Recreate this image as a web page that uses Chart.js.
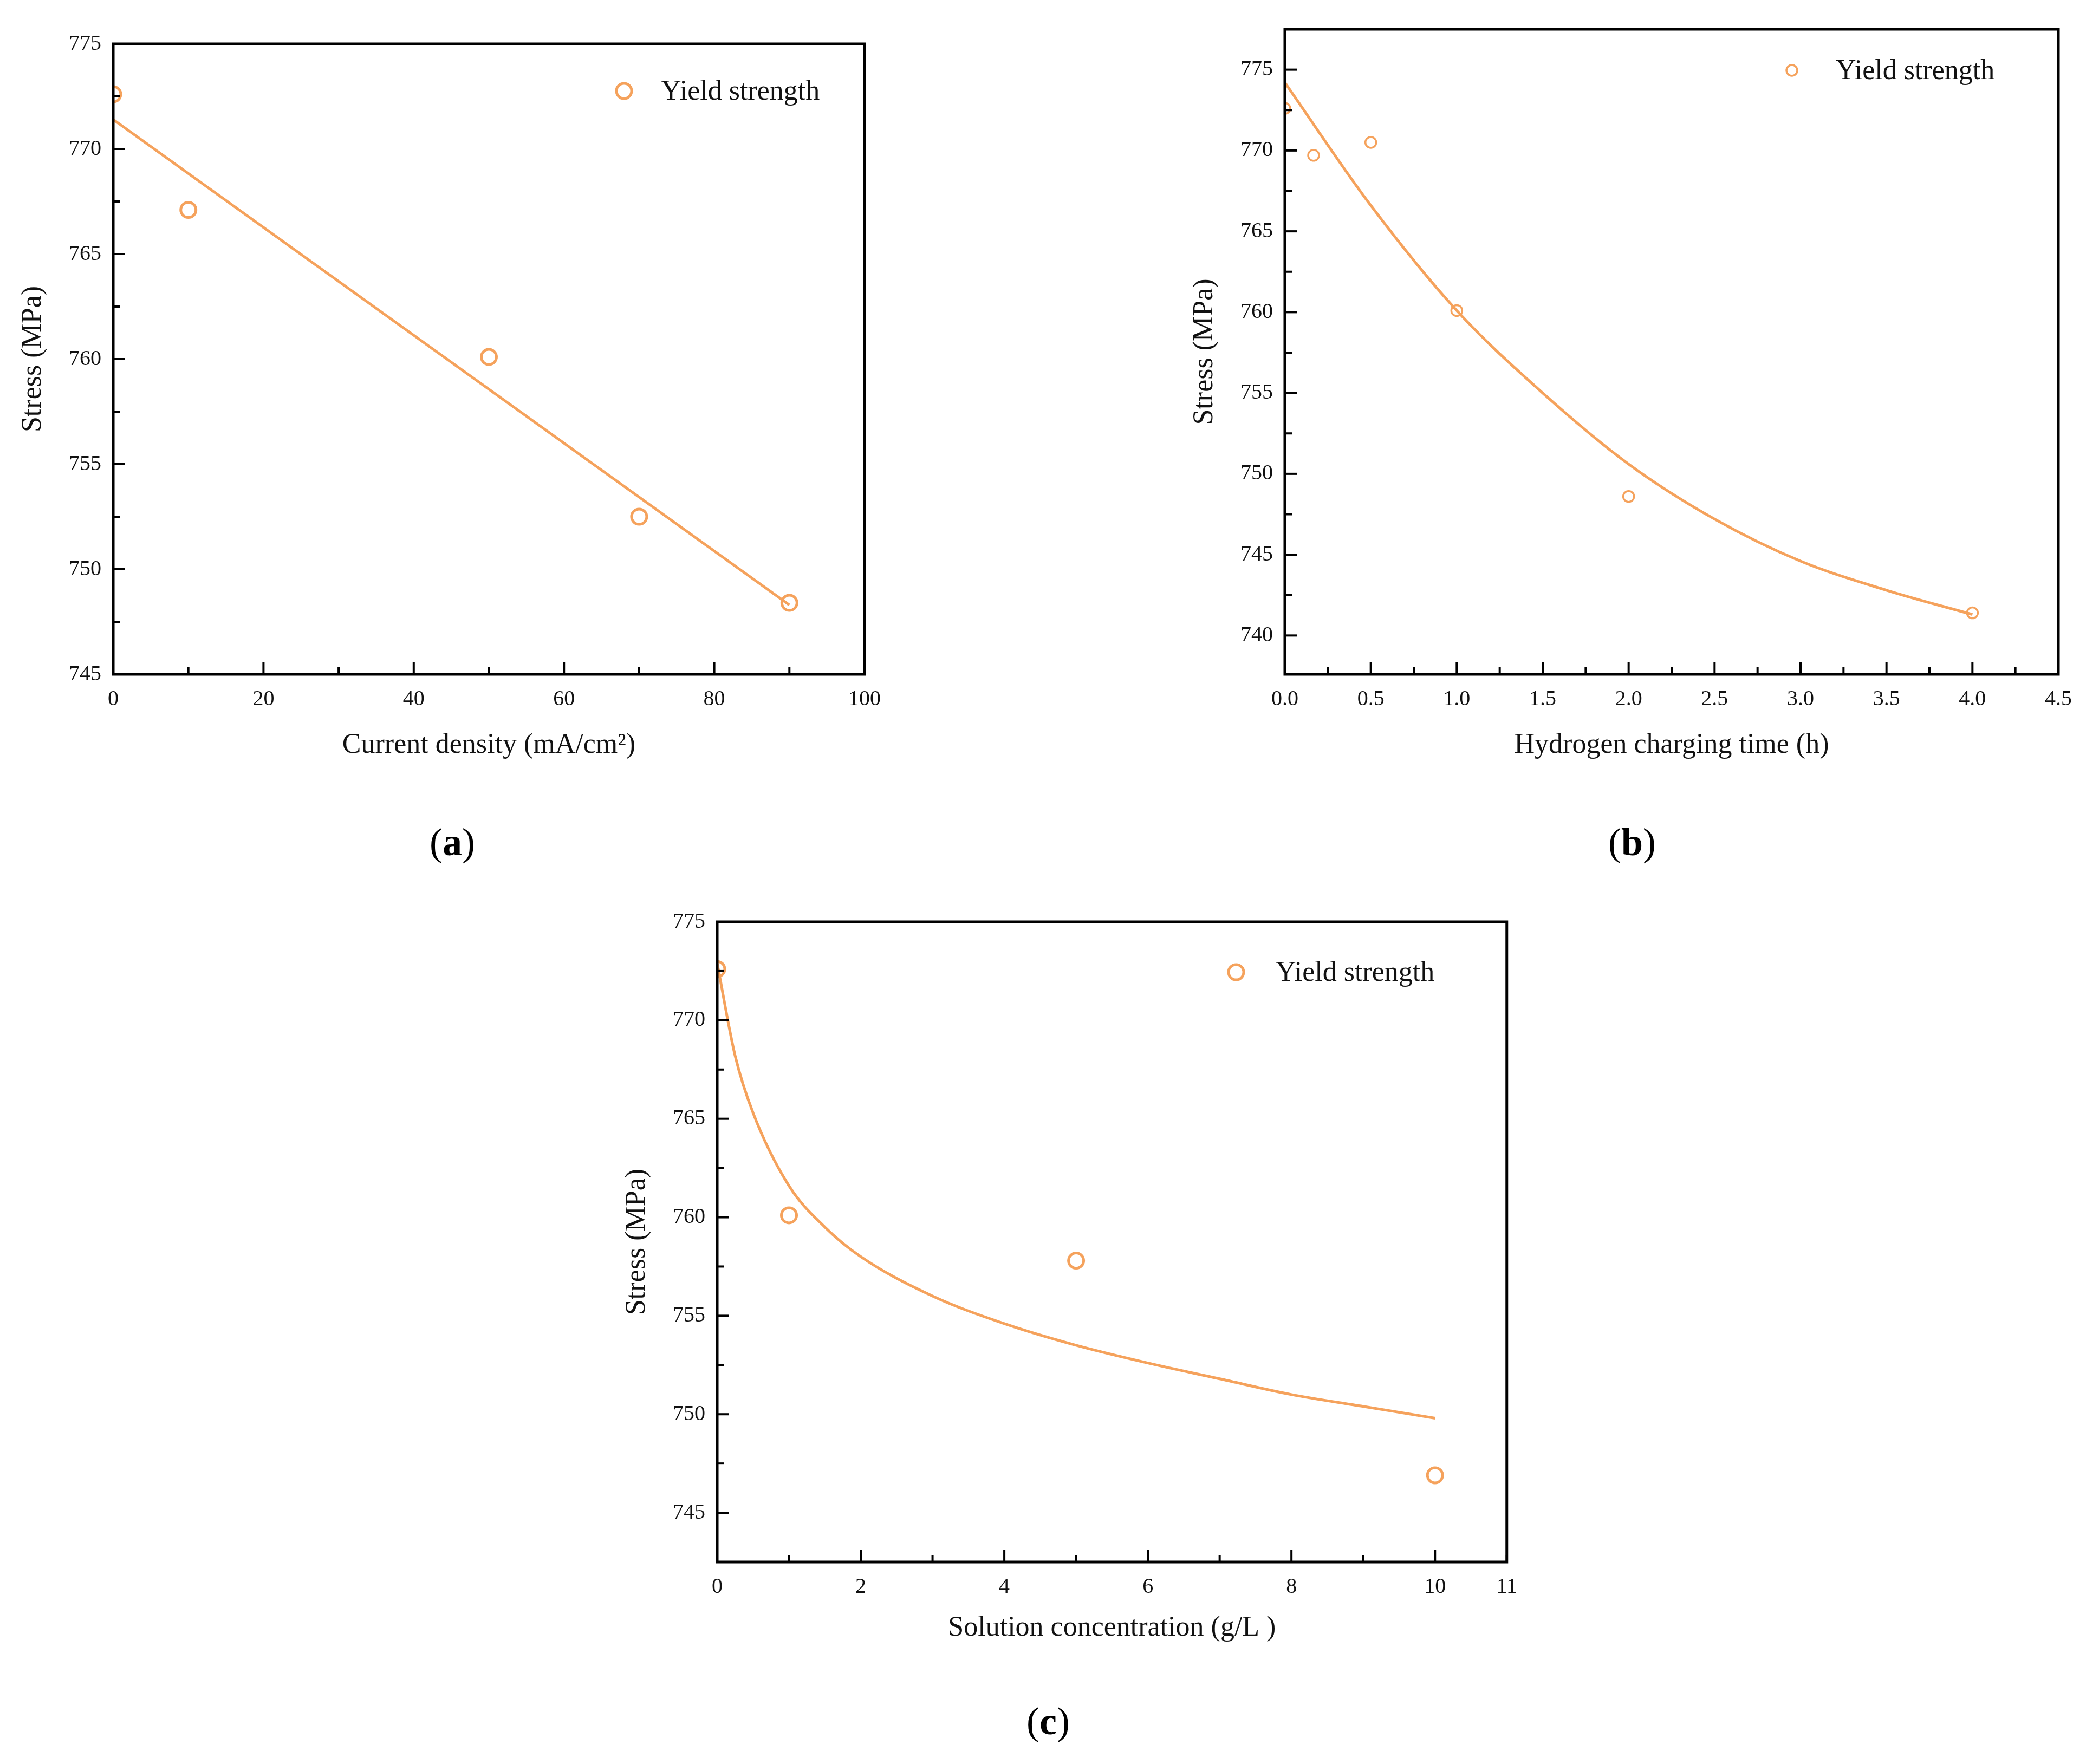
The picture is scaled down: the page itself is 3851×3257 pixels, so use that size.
<!DOCTYPE html>
<html><head><meta charset="utf-8">
<script src="https://cdn.jsdelivr.net/npm/chart.js@4/dist/chart.umd.min.js"></script>
<style>
body{margin:0;background:#fff;width:3851px;height:3257px;position:relative;overflow:hidden;font-family:"Liberation Serif",serif}
canvas{position:absolute}
.lab{position:absolute;font-size:72px;transform:translate(-50%,-50%);font-family:"Liberation Serif",serif}
</style></head><body>
<canvas id="ca" style="left:0;top:0;width:1700px;height:1420px"></canvas>
<canvas id="cb" style="left:2163px;top:0;width:1688px;height:1420px"></canvas>
<canvas id="cc" style="left:1115px;top:1600px;width:1700px;height:1450px"></canvas>
<div class="lab" style="left:835px;top:1555px">(<b>a</b>)</div>
<div class="lab" style="left:3013px;top:1555px">(<b>b</b>)</div>
<div class="lab" style="left:1935px;top:3178px">(<b>c</b>)</div>
<script>
// Panel (a)
const aX=[0,10,50,70,90];
const aY=[772.6,767.1,760.1,752.5,748.4];
const aFitX=[0,90];
const aFitY=[771.4,748.3];
// Panel (b)
const bX=[0,0.167,0.5,1,2,4];
const bY=[772.6,769.7,770.5,760.1,748.6,741.4];
const bFitX=[0,0.5,1,1.5,2,2.5,3,3.5,4];
const bFitY=[774.2,766.6,760.1,755.0,750.6,747.2,744.6,742.8,741.3];
// Panel (c)
const cX=[0,1,5,10];
const cY=[772.6,760.1,757.8,746.9];
const cFitX=[0,0.25,0.5,1,1.5,2,3,4,5,6,7,8,9,10];
const cFitY=[772.9,768.2,765.3,761.6,759.5,758.0,756.0,754.6,753.5,752.6,751.8,751.0,750.4,749.8];
const yTicks=[740,745,750,755,760,765,770,775];
const legendText="Yield strength";
const ORANGE="#F5A25C";

const F="Liberation Serif";
const pts=(xs,ys)=>xs.map((x,i)=>({x,y:ys[i]}));

const framePlugin={id:'frame',afterDraw(c,args,o){
  const ctx=c.ctx,a=c.chartArea,sx=c.scales.x,sy=c.scales.y;
  ctx.save();ctx.strokeStyle='#000';ctx.lineWidth=5;
  ctx.strokeRect(a.left,a.top,a.right-a.left,a.bottom-a.top);
  ctx.lineWidth=4;
  const tick=(v,len,ax)=>{ctx.beginPath();
    if(ax==='x'){const p=sx.getPixelForValue(v);ctx.moveTo(p,a.bottom);ctx.lineTo(p,a.bottom-len);}
    else{const p=sy.getPixelForValue(v);ctx.moveTo(a.left,p);ctx.lineTo(a.left+len,p);}
    ctx.stroke();};
  for(let v=sx.min;v<=sx.max+1e-9;v+=o.xMinor){const r=Math.abs(v/o.xMajor-Math.round(v/o.xMajor))<1e-6;tick(v,r?22:13,'x');}
  const y0=Math.ceil(sy.min/o.yMinor)*o.yMinor;
  for(let v=y0;v<=sy.max+1e-9;v+=o.yMinor){const r=Math.abs(v/5-Math.round(v/5))<1e-6;tick(v,r?22:13,'y');}
  // legend
  ctx.strokeStyle=ORANGE;ctx.lineWidth=o.mw;ctx.beginPath();ctx.arc(o.lx,o.ly,o.mr,0,Math.PI*2);ctx.stroke();
  ctx.fillStyle='#111';ctx.font='52px "'+F+'"';ctx.textBaseline='middle';ctx.fillText(legendText,o.tx,o.ly+2);
  ctx.restore();}};

function make(id,xs,ys,fx,fy,xmin,xmax,xstep,xminor,ymin,ymax,xt,padR,padT,xh,mr,mw,leg,fmt){
  new Chart(document.getElementById(id),{type:'scatter',
    data:{datasets:[
      {data:pts(fx,fy),showLine:true,borderColor:ORANGE,borderWidth:5,pointRadius:0,cubicInterpolationMode:'monotone',fill:false},
      {data:pts(xs,ys),borderColor:ORANGE,backgroundColor:'rgba(0,0,0,0)',pointRadius:mr,pointBorderWidth:mw,pointHoverRadius:mr}]},
    options:{responsive:false,animation:false,devicePixelRatio:1,
      layout:{padding:{top:padT,right:padR,left:0,bottom:0}},
      plugins:{legend:{display:false},tooltip:{enabled:false},
        frame:{xMinor:xminor,xMajor:xstep,yMinor:2.5,lx:leg[0],ly:leg[1],tx:leg[2],mr:mr,mw:mw}},
      scales:{
        x:{type:'linear',min:xmin,max:xmax,grid:{display:false},border:{display:false},
          afterFit(s){s.height=xh;},
          ticks:{stepSize:xstep,color:'#111',font:{family:F,size:40},padding:14,maxRotation:0,callback:v=>fmt(v)},
          title:{display:true,text:xt,color:'#111',font:{family:F,size:52},padding:{top:0,bottom:12}}},
        y:{min:ymin,max:ymax,grid:{display:false},border:{display:false},
          afterFit(s){s.width=209;},
          afterBuildTicks(s){s.ticks=yTicks.filter(v=>v>=ymin&&v<=ymax).map(v=>({value:v}));},
          ticks:{color:'#111',font:{family:F,size:40},padding:14},
          title:{display:true,text:'Stress (MPa)',color:'#111',font:{family:F,size:52},padding:{top:30,bottom:0}}}}},
    plugins:[framePlugin]});
}
const setSize=(id)=>{const c=document.getElementById(id);c.width=parseInt(c.style.width);c.height=parseInt(c.style.height);};
['ca','cb','cc'].forEach(setSize);
make('ca',aX,aY,aFitX,aFitY,0,100,20,10,745,775,'Current density (mA/cm²)',104,81,1420-1196-49,14,5,[1152,168,1220],v=>v);
make('cb',bX,bY,bFitX,bFitY,0,4.5,0.5,0.25,737.6,777.5,'Hydrogen charging time (h)',51,54,1420-1196-49,10,3.5,[3308-2163,130,3389-2163],v=>v.toFixed(1));
make('cc',cX,cY,cFitX,cFitY,0,11,2,1,742.5,775,'Solution concentration (g/L )',1700-1721,102,1450-1224-60,14,5,[2282-1115,195,2355-1115],v=>v);
</script></body></html>
